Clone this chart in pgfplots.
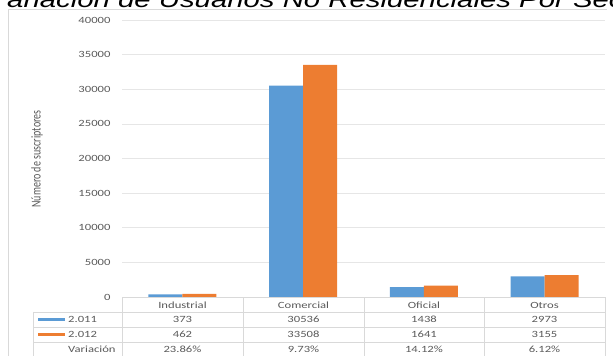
\documentclass[border=0pt]{standalone}
\usepackage{pgfplots}
\pgfplotsset{compat=1.18}
\usepackage{fontspec}
\setmainfont{Carlito}
\newfontfamily\tfont[FakeStretch=1.33]{Carlito}
\newfontfamily\titlefont[FakeStretch=1.31]{Liberation Sans}
\definecolor{cblue}{HTML}{5B9BD5}
\definecolor{corange}{HTML}{ED7D31}
\definecolor{tgray}{HTML}{595959}
\definecolor{lgray}{HTML}{D9D9D9}
\definecolor{ggray}{HTML}{E6E6E6}
\begin{document}
\begin{tikzpicture}
\path[use as bounding box] (0pt,0pt) rectangle (613pt,356pt);
\clip (0pt,0pt) rectangle (613pt,356pt);
\begin{scope}[x=1pt,y=1pt]
% title (partially cut off)
\node[anchor=base west, inner sep=0pt] at (7,348) {\titlefont\fontsize{22.4}{26}\selectfont\itshape ariación de Usuarios No Residenciales Por Sector};
% frame
\draw[lgray, line width=0.8pt] (8,0) -- (8,346.5) -- (607,346.5);
\end{scope}
\begin{axis}[
  at={(122pt,59pt)}, anchor=south west,
  scale only axis, width=483pt, height=277pt,
  xmin=-0.5, xmax=3.5, ymin=0, ymax=40000,
  ybar=0pt, bar width=34pt,
  axis line style={draw=none},
  xtick=\empty,
  ytick={0,5000,...,40000},
  scaled y ticks=false,
  major tick length=0pt,
  ymajorgrids, grid style={ggray, line width=0.6pt},
  /pgf/number format/assume math mode=true,
  /pgf/number format/1000 sep={},
  yticklabel style={font=\tfont\fontsize{9.5}{11}\selectfont, text=tgray, xshift=-8pt},
  clip=false,
]
\addplot[fill=cblue, draw=none] coordinates {(0,373) (1,30536) (2,1438) (3,2973)};
\addplot[fill=corange, draw=none] coordinates {(0,462) (1,33508) (2,1641) (3,3155)};
\end{axis}
\begin{scope}[x=1pt,y=1pt]
% y label
\node[rotate=90, text=tgray, font=\fontsize{10}{11}\selectfont] at (37,197) {\scalebox{1}[1.35]{Número de suscriptores}};
% table
\begin{scope}[lgray, line width=0.6pt]
\draw (122,58.5) -- (605,58.5);
\draw (33,44) -- (605,44);
\draw (33,29) -- (605,29);
\draw (33,14) -- (605,14);
\draw (33,44) -- (33,0);
\foreach \x in {122,243,364,484,605} {\draw (\x,58.5) -- (\x,0);}
\end{scope}
\begin{scope}[every node/.style={text=tgray, font=\tfont\fontsize{9.5}{11}\selectfont, inner sep=0pt}]
\node at (182.5,51) {Industrial};
\node at (303.5,51) {Comercial};
\node at (424,51) {Oficial};
\node at (544.5,51) {Otros};
\node at (182.5,36.5) {373};
\node at (303.5,36.5) {30536};
\node at (424,36.5) {1438};
\node at (544.5,36.5) {2973};
\node at (182.5,21.5) {462};
\node at (303.5,21.5) {33508};
\node at (424,21.5) {1641};
\node at (544.5,21.5) {3155};
\node at (182.5,7) {23.86\%};
\node at (303.5,7) {9.73\%};
\node at (424,7) {14.12\%};
\node at (544.5,7) {6.12\%};
\node[anchor=west] at (68,36.5) {2.011};
\node[anchor=west] at (68,21.5) {2.012};
\node[anchor=west] at (68,7) {Variación};
\end{scope}
\draw[cblue, line width=3pt] (38,36.5) -- (65,36.5);
\draw[corange, line width=3pt] (38,21.5) -- (65,21.5);
\end{scope}
\end{tikzpicture}
\end{document}
